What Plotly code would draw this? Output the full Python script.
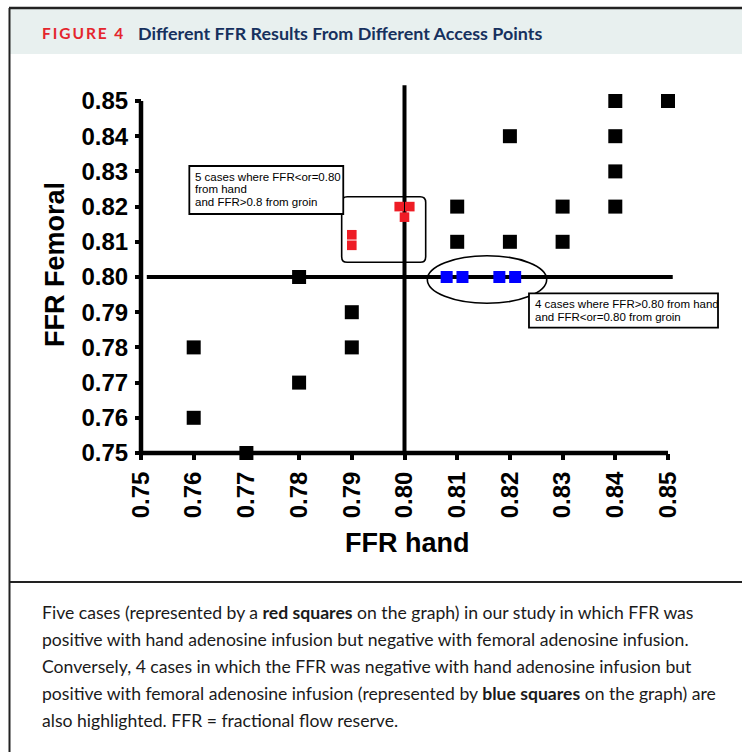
import plotly.graph_objects as go

# ---- data: FFR measured from hand vs femoral adenosine infusion ----
hand_black = [0.76, 0.76, 0.77, 0.78, 0.78, 0.79, 0.79,
              0.81, 0.81, 0.82, 0.82, 0.83, 0.83,
              0.84, 0.84, 0.84, 0.84, 0.85]
femoral_black = [0.78, 0.76, 0.75, 0.80, 0.77, 0.79, 0.78,
                 0.82, 0.81, 0.84, 0.81, 0.82, 0.81,
                 0.85, 0.84, 0.83, 0.82, 0.85]

# positive by hand, negative by groin
hand_red = [0.799, 0.801, 0.800, 0.790, 0.790]
femoral_red = [0.820, 0.820, 0.817, 0.812, 0.809]

# negative by hand, positive by groin
hand_blue = [0.808, 0.811, 0.818, 0.821]
femoral_blue = [0.800, 0.800, 0.800, 0.800]

CUTOFF = 0.80
tick_vals = [0.75, 0.76, 0.77, 0.78, 0.79, 0.80, 0.81, 0.82, 0.83, 0.84, 0.85]
tick_text = ["0.75", "0.76", "0.77", "0.78", "0.79", "0.80",
             "0.81", "0.82", "0.83", "0.84", "0.85"]

W, H = 742, 752
AX_LO, AX_HI = 0.75, 0.85

# pixel layout of the chart inside the page
PX_X0, PX_X1 = 141, 668      # x pixels of 0.75 and 0.85
PX_Y0, PX_Y1 = 453, 101      # y pixels of 0.75 and 0.85
sx = (PX_X1 - PX_X0) / (AX_HI - AX_LO)
sy = (PX_Y0 - PX_Y1) / (AX_HI - AX_LO)
x_range = [AX_LO - PX_X0 / sx, AX_HI + (W - PX_X1) / sx]
y_range = [AX_LO - (H - PX_Y0) / sy, AX_HI + PX_Y1 / sy]


def px(p):
    return p / W


def py(p):
    return 1 - p / H


FONT_AX = "Liberation Sans, Arial, sans-serif"
FONT_TXT = "Lato, sans-serif"

fig = go.Figure()
fig.add_trace(go.Scatter(x=hand_black, y=femoral_black, mode="markers",
                         marker=dict(symbol="square", size=14, color="black"),
                         cliponaxis=False, hoverinfo="x+y"))
fig.add_trace(go.Scatter(x=hand_red, y=femoral_red, mode="markers",
                         marker=dict(symbol="square", size=9.6, color="#ee1c25"),
                         cliponaxis=False, hoverinfo="x+y"))
fig.add_trace(go.Scatter(x=hand_blue, y=femoral_blue, mode="markers",
                         marker=dict(symbol="square", size=12, color="#0000ff"),
                         cliponaxis=False, hoverinfo="x+y"))

shapes = []
# frame, header band and caption separator
shapes.append(dict(type="rect", xref="paper", yref="paper", x0=px(10), x1=1, y0=py(54), y1=py(9),
                   fillcolor="#e8f0ef", line=dict(width=0), layer="below"))
shapes.append(dict(type="line", xref="paper", yref="paper", x0=px(9), x1=1, y0=py(8), y1=py(8),
                   line=dict(color="#222222", width=2.5), layer="below"))
shapes.append(dict(type="line", xref="paper", yref="paper", x0=px(9.5), x1=px(9.5), y0=0, y1=py(8),
                   line=dict(color="#222222", width=2), layer="below"))
shapes.append(dict(type="line", xref="paper", yref="paper", x0=px(10), x1=1, y0=py(582), y1=py(582),
                   line=dict(color="#222222", width=2), layer="below"))

# axis lines
shapes.append(dict(type="line", x0=AX_LO, x1=AX_HI, y0=AX_LO, y1=AX_LO,
                   line=dict(color="black", width=4.5), layer="below"))
shapes.append(dict(type="line", x0=AX_LO, x1=AX_LO, y0=AX_LO, y1=AX_HI,
                   line=dict(color="black", width=4.5), layer="below"))
# cutoff lines at 0.80
shapes.append(dict(type="line", x0=CUTOFF, x1=CUTOFF, y0=AX_LO, y1=0.8545,
                   line=dict(color="black", width=4), layer="below"))
shapes.append(dict(type="line", x0=0.7511, x1=0.8509, y0=CUTOFF, y1=CUTOFF,
                   line=dict(color="black", width=4), layer="below"))

# rounded box around the red group
bx0, bx1, by0, by1 = 0.78808, 0.80402, 0.80418, 0.82281
rx, ry = 0.00105, 0.0016
box_path = (f"M {bx0 + rx} {by1} L {bx1 - rx} {by1} Q {bx1} {by1} {bx1} {by1 - ry} "
            f"L {bx1} {by0 + ry} Q {bx1} {by0} {bx1 - rx} {by0} "
            f"L {bx0 + rx} {by0} Q {bx0} {by0} {bx0} {by0 + ry} "
            f"L {bx0} {by1 - ry} Q {bx0} {by1} {bx0 + rx} {by1} Z")
shapes.append(dict(type="path", path=box_path, line=dict(color="black", width=1.6),
                   fillcolor="rgba(0,0,0,0)", layer="above"))
# ellipse around the blue group
shapes.append(dict(type="circle", x0=0.80433, x1=0.82698, y0=0.79253, y1=0.80605,
                   line=dict(color="black", width=1.6), layer="above"))
# callout boxes
shapes.append(dict(type="rect", x0=0.75917, x1=0.78838, y0=0.81790, y1=0.83153,
                   line=dict(color="black", width=1.8), fillcolor="white", layer="above"))
shapes.append(dict(type="rect", x0=0.82362, x1=0.85949, y0=0.78560, y1=0.79537,
                   line=dict(color="black", width=1.8), fillcolor="white", layer="above"))

annotations = []
# header
fig_label = "\u2009".join("FIGURE") + "\u2009 \u20094"
annotations.append(dict(xref="paper", yref="paper", x=px(40), y=py(33), xanchor="left", yanchor="middle",
                        text="<b>" + fig_label + "</b>", showarrow=False,
                        font=dict(family=FONT_TXT, size=15.5, color="#e4252d")))
annotations.append(dict(xref="paper", yref="paper", x=px(136), y=py(33), xanchor="left", yanchor="middle",
                        text="<b>Different FFR Results From Different Access Points</b>", showarrow=False,
                        font=dict(family=FONT_TXT, size=17.9, color="#16305e")))

# callout texts
callout_1 = ["5 cases where FFR&lt;or=0.80", "from hand", "and FFR&gt;0.8 from groin"]
for i, line in enumerate(callout_1):
    annotations.append(dict(xref="paper", yref="paper", x=px(193), y=py(176.7 + 12.8 * i),
                            xanchor="left", yanchor="middle", text=line, showarrow=False,
                            font=dict(family=FONT_AX, size=11.5, color="black")))
callout_2 = ["4 cases where FFR&gt;0.80 from hand", "and FFR&lt;or=0.80 from groin"]
for i, line in enumerate(callout_2):
    annotations.append(dict(xref="paper", yref="paper", x=px(532.5), y=py(303.5 + 13.2 * i),
                            xanchor="left", yanchor="middle", text=line, showarrow=False,
                            font=dict(family=FONT_AX, size=11.5, color="black")))

# axis titles
annotations.append(dict(xref="paper", yref="paper", x=px(55), y=py(265), xanchor="center", yanchor="middle",
                        text="<b>FFR Femoral</b>", textangle=-90, showarrow=False,
                        font=dict(family=FONT_AX, size=27, color="black")))
annotations.append(dict(xref="paper", yref="paper", x=px(407), y=py(543), xanchor="center", yanchor="middle",
                        text="<b>FFR hand</b>", showarrow=False,
                        font=dict(family=FONT_AX, size=27, color="black")))

# caption
caption_lines = [
    "Five cases (represented by a <b>red squares</b> on the graph) in our study in which FFR was",
    "positive with hand adenosine infusion but negative with femoral adenosine infusion.",
    "Conversely, 4 cases in which the FFR was negative with hand adenosine infusion but",
    "positive with femoral adenosine infusion (represented by <b>blue squares</b> on the graph) are",
    "also highlighted. FFR = fractional flow reserve.",
]
for i, line in enumerate(caption_lines):
    annotations.append(dict(xref="paper", yref="paper", x=px(40), y=py(612 + 27.2 * i),
                            xanchor="left", yanchor="middle", text=line, showarrow=False,
                            font=dict(family=FONT_TXT, size=17.6, color="#1a1a1a")))

axis_common = dict(
    tickvals=tick_vals, ticktext=tick_text,
    ticks="outside", ticklen=6, tickwidth=3.5, tickcolor="black",
    showgrid=False, zeroline=False, showline=False,
    tickfont=dict(family=FONT_AX, size=24, color="black", weight="bold"),
    anchor="free", domain=[0, 1], fixedrange=True,
)

fig.update_layout(
    width=W, height=H,
    margin=dict(l=0, r=0, t=0, b=0),
    paper_bgcolor="white", plot_bgcolor="rgba(0,0,0,0)",
    showlegend=False,
    xaxis=dict(range=x_range, position=py(PX_Y0), tickangle=-90, ticklabelstandoff=2, **axis_common),
    yaxis=dict(range=y_range, position=px(PX_X0), ticklabelstandoff=2, **axis_common),
    shapes=shapes,
    annotations=annotations,
)

fig.write_html("out.html")
